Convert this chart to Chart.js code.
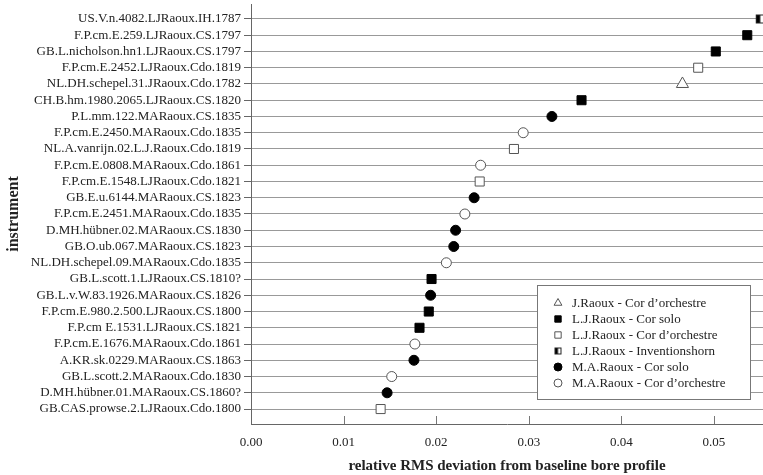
<!DOCTYPE html>
<html>
<head>
<meta charset="utf-8">
<script src="https://cdn.jsdelivr.net/npm/chart.js@4"></script>
<style>
  html, body { margin: 0; padding: 0; background: #fff; }
  #wrap { width: 763px; height: 475px; }
</style>
</head>
<body>
<div id="wrap"><canvas id="myChart" width="763" height="475"></canvas></div>
<script>
// instruments, top to bottom
const instruments = [
  "US.V.n.4082.LJRaoux.IH.1787",
  "F.P.cm.E.259.LJRaoux.CS.1797",
  "GB.L.nicholson.hn1.LJRaoux.CS.1797",
  "F.P.cm.E.2452.LJRaoux.Cdo.1819",
  "NL.DH.schepel.31.JRaoux.Cdo.1782",
  "CH.B.hm.1980.2065.LJRaoux.CS.1820",
  "P.L.mm.122.MARaoux.CS.1835",
  "F.P.cm.E.2450.MARaoux.Cdo.1835",
  "NL.A.vanrijn.02.L.J.Raoux.Cdo.1819",
  "F.P.cm.E.0808.MARaoux.Cdo.1861",
  "F.P.cm.E.1548.LJRaoux.Cdo.1821",
  "GB.E.u.6144.MARaoux.CS.1823",
  "F.P.cm.E.2451.MARaoux.Cdo.1835",
  "D.MH.hübner.02.MARaoux.CS.1830",
  "GB.O.ub.067.MARaoux.CS.1823",
  "NL.DH.schepel.09.MARaoux.Cdo.1835",
  "GB.L.scott.1.LJRaoux.CS.1810?",
  "GB.L.v.W.83.1926.MARaoux.CS.1826",
  "F.P.cm.E.980.2.500.LJRaoux.CS.1800",
  "F.P.cm E.1531.LJRaoux.CS.1821",
  "F.P.cm.E.1676.MARaoux.Cdo.1861",
  "A.KR.sk.0229.MARaoux.CS.1863",
  "GB.L.scott.2.MARaoux.Cdo.1830",
  "D.MH.hübner.01.MARaoux.CS.1860?",
  "GB.CAS.prowse.2.LJRaoux.Cdo.1800"
];

// relative RMS deviation, same order
const deviations = [
  0.0550, 0.0536, 0.0502, 0.0483, 0.0466, 0.0357, 0.0325, 0.0294, 0.0284,
  0.0248, 0.0247, 0.0241, 0.0231, 0.0221, 0.0219, 0.0211, 0.0195, 0.0194,
  0.0192, 0.0182, 0.0177, 0.0176, 0.0152, 0.0147, 0.0140
];

// series index per instrument
const groups = [
  3, 1, 1, 2, 0, 1, 4, 5, 2, 5, 2, 4, 5, 4, 4, 5, 1, 4, 1, 1, 5, 4, 5, 4, 2
];

const seriesNames = [
  "J.Raoux - Cor d\u2019orchestre",
  "L.J.Raoux - Cor solo",
  "L.J.Raoux - Cor d\u2019orchestre",
  "L.J.Raoux - Inventionshorn",
  "M.A.Raoux - Cor solo",
  "M.A.Raoux - Cor d\u2019orchestre"
];

const xTicks = [0, 0.01, 0.02, 0.03, 0.04, 0.05];

// half filled square marker
function halfSquare(size) {
  const c = document.createElement("canvas");
  c.width = size + 2;
  c.height = size + 2;
  const g = c.getContext("2d");
  g.fillStyle = "#fff";
  g.fillRect(1, 1, size, size);
  g.fillStyle = "#000";
  g.fillRect(1, 1, size / 2, size);
  g.strokeStyle = "#222";
  g.lineWidth = 1;
  g.strokeRect(1.5, 1.5, size - 1, size - 1);
  return c;
}

const styles = [
  { pointStyle: "triangle", radius: 7, legendRadius: 4.5, bg: "#fff", border: "#555" },
  { pointStyle: "rect", radius: 6.4, legendRadius: 4.5, bg: "#000", border: "#000" },
  { pointStyle: "rect", radius: 6.4, legendRadius: 4.5, bg: "#fff", border: "#555" },
  { pointStyle: halfSquare(9), radius: 5, legendPointStyle: halfSquare(7), bg: "#fff", border: "#222" },
  { pointStyle: "circle", radius: 5, legendRadius: 4, bg: "#000", border: "#000" },
  { pointStyle: "circle", radius: 5, legendRadius: 4, bg: "#fff", border: "#555" }
];

const datasets = seriesNames.map((name, s) => ({
  label: name,
  data: instruments
    .map((inst, i) => ({ x: deviations[i], y: i + 1, g: groups[i] }))
    .filter((p) => p.g === s),
  pointStyle: styles[s].pointStyle,
  pointRadius: styles[s].radius,
  pointBackgroundColor: styles[s].bg,
  pointBorderColor: styles[s].border,
  pointBorderWidth: 1,
  showLine: false,
  clip: false
}));

const textColor = "#222";
const serif = "'Liberation Serif', 'DejaVu Serif', serif";

// inward tick marks on the x axis
const innerTicks = {
  id: "innerTicks",
  afterDatasetsDraw(chart) {
    const ctx = chart.ctx;
    const x = chart.scales.x;
    const bottom = chart.chartArea.bottom;
    ctx.save();
    ctx.strokeStyle = "#777";
    ctx.lineWidth = 1;
    xTicks.slice(1).forEach((v) => {
      const px = Math.round(x.getPixelForValue(v)) + 0.5;
      ctx.beginPath();
      ctx.moveTo(px, bottom);
      ctx.lineTo(px, bottom - 8);
      ctx.stroke();
    });
    ctx.restore();
  }
};

// boxed legend inside the plot
const boxLegend = {
  id: "boxLegend",
  afterDatasetsDraw(chart) {
    const ctx = chart.ctx;
    const left = 537.5, top = 285.5, w = 213, h = 114;
    ctx.save();
    ctx.fillStyle = "#fff";
    ctx.fillRect(left, top, w, h);
    ctx.strokeStyle = "#777";
    ctx.lineWidth = 1;
    ctx.strokeRect(left, top, w, h);
    ctx.font = "13px " + serif;
    ctx.textBaseline = "middle";
    seriesNames.forEach((name, s) => {
      const y = 303 + s * 16;
      const st = styles[s];
      ctx.fillStyle = st.bg;
      ctx.strokeStyle = st.border;
      ctx.lineWidth = 1;
      Chart.helpers.drawPoint(ctx, {
        pointStyle: st.legendPointStyle || st.pointStyle,
        radius: st.legendRadius || 4,
        borderWidth: 1,
        rotation: 0
      }, 558, y);
      ctx.fillStyle = textColor;
      ctx.fillText(name, 572, y + 1);
    });
    ctx.restore();
  }
};

const ctx = document.getElementById("myChart");

const myChart = new Chart(ctx, {
  type: "scatter",
  data: { datasets },
  options: {
    responsive: false,
    animation: false,
    layout: { autoPadding: false, padding: { top: 4, right: 0, bottom: 0, left: 0 } },
    plugins: {
      legend: { display: false },
      tooltip: { enabled: false }
    },
    scales: {
      x: {
        type: "linear",
        min: 0,
        max: 0.0553,
        afterBuildTicks: (scale) => {
          scale.ticks = xTicks.map((v) => ({ value: v }));
        },
        afterFit: (scale) => {
          scale.height = 51;
          scale.paddingLeft = 0;
          scale.paddingRight = 0;
        },
        ticks: {
          color: textColor,
          font: { family: serif, size: 13 },
          padding: 3,
          maxRotation: 0,
          callback: (v) => Number(v).toFixed(2)
        },
        grid: { display: false },
        border: { display: true, color: "#666", width: 1 },
        title: {
          display: true,
          text: "relative RMS deviation from baseline bore profile",
          color: textColor,
          font: { family: serif, size: 15, weight: "bold" },
          padding: { top: 0, bottom: 0 }
        }
      },
      y: {
        type: "linear",
        reverse: true,
        min: 0.08,
        max: 25.92,
        afterBuildTicks: (scale) => {
          scale.ticks = instruments.map((n, i) => ({ value: i + 1 }));
        },
        afterFit: (scale) => {
          scale.width = 251;
          scale.paddingTop = 0;
          scale.paddingBottom = 0;
        },
        ticks: {
          color: textColor,
          font: { family: serif, size: 13 },
          padding: 3,
          autoSkip: false,
          callback: (v) => instruments[v - 1]
        },
        grid: {
          color: "#999",
          lineWidth: 1,
          tickLength: 7,
          tickColor: "#666"
        },
        border: { display: true, color: "#666", width: 1 },
        title: {
          display: true,
          text: "instrument",
          color: textColor,
          font: { family: serif, size: 16, weight: "bold" },
          padding: { top: 4, bottom: 4 }
        }
      }
    }
  },
  plugins: [innerTicks, boxLegend]
});
</script>
</body>
</html>
